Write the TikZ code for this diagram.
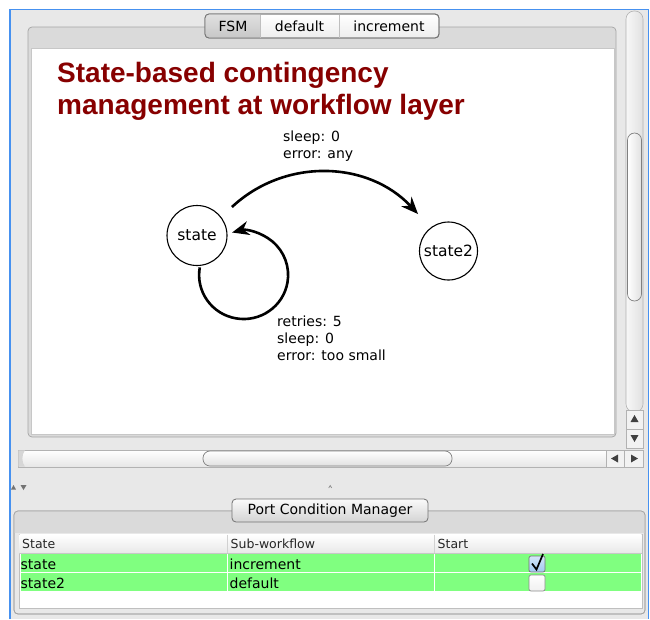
\documentclass[tikz,border=0pt]{standalone}
\usepackage{fontspec}
\setmainfont{DejaVu Sans}
\newfontfamily\titlefont{Liberation Sans}
\usetikzlibrary{arrows.meta,calc}

\definecolor{winbg}{RGB}{232,232,232}
\definecolor{bandbg}{RGB}{218,218,218}
\definecolor{framegray}{RGB}{165,165,165}
\definecolor{winblue}{RGB}{70,145,240}
\definecolor{titlered}{RGB}{135,0,0}
\definecolor{rowgreen}{RGB}{128,255,128}
\definecolor{checkblue}{RGB}{160,200,240}

\tikzset{
  uitext/.style={font=\fontsize{14}{16}\selectfont, inner sep=0pt},
  hdrtext/.style={font=\fontsize{12.5}{14}\selectfont, inner sep=0pt, anchor=base west, text=black!85},
  celltext/.style={font=\fontsize{14}{16}\selectfont, inner sep=0pt, anchor=base west},
  lbl/.style={font=\fontsize{14}{17}\selectfont, inner sep=0pt, anchor=north west, align=left},
  statecirc/.style={circle, draw, line width=1.1pt, fill=white, inner sep=0pt,
                    font=\fontsize{15.5}{18}\selectfont},
  arr/.style={line width=2.6pt, -{Stealth[length=17pt,width=14pt,inset=5.5pt]}},
  sbar/.style={draw=black!30, line width=0.6pt},
  tri/.style={fill=black!75},
}

\begin{document}
\begin{tikzpicture}[x=1pt,y=-1pt]
\useasboundingbox (0,0) rectangle (650,619);
\fill[white] (0,0) rectangle (650,619);

% window body and its blue outline
\fill[winbg] (10,9) rectangle (648.5,619);
\draw[winblue, line width=1.6pt] (10,619) -- (10,9.5) -- (648.5,9.5) -- (648.5,619);

% ---------- FSM editor panel ----------
\draw[framegray, fill=bandbg, rounded corners=4pt, line width=0.7pt] (28,27) rectangle (616,437);
\draw[black!22, fill=white, line width=0.6pt] (31,48) rectangle (614,434);

% tab selector
\draw[black!55, top color=white, bottom color=black!7, rounded corners=4pt, line width=0.8pt] (205,14) rectangle (439,38);
\begin{scope}
  \clip[rounded corners=4pt] (205,14) rectangle (439,38);
  \fill[top color=black!12, bottom color=black!22] (205,14) rectangle (260,38);
\end{scope}
\draw[black!55, rounded corners=4pt, line width=0.8pt] (205,14) rectangle (439,38);
\draw[black!25, line width=0.6pt] (260,14.5) -- (260,37.5) (339,14.5) -- (339,37.5);
\node[uitext] (tabfsm) at (233,26) {FSM};
\node[uitext] (tabdef) at (299.5,26) {default};
\node[uitext] (tabinc) at (389,26) {increment};

% title
\node[inner sep=0pt, anchor=north west, align=left, text=titlered,
      font={\titlefont\bfseries\fontsize{28}{32}\selectfont}] (title) at (57,62)
  {State-based contingency\\management at workflow layer};

% states
\node[statecirc, minimum size=60pt] (state) at (197,235.5) {state};
\node[statecirc, minimum size=58pt] (state2) at (448.5,251) {state2};

% transitions (out/in angles are page angles)
\draw[arr] ($(state)+(-39.2:45.1)$) to[out=43, in=133] ($(state2)+(-129.5:47.9)$);
\draw[arr] ($(state)+(85:32)$) arc[start angle=190, end angle=-105, x radius=44.5, y radius=44];

% transition labels
\node[lbl] (lblgo) at (283,130.5) {sleep: 0\\error: any};
\node[lbl] (lblretry) at (277,315.5) {retries: 5\\sleep: 0\\error: too small};

% vertical scrollbar
\draw[sbar, left color=black!3, right color=black!12, rounded corners=8pt] (626,11) rectangle (643,412);
\draw[black!50, line width=0.7pt, left color=white, right color=black!12, rounded corners=7pt] (627.5,133) rectangle (641.5,301);
\draw[sbar, fill=black!5] (626,410) rectangle (643,429.5);
\draw[sbar, fill=black!5] (626,429.5) rectangle (643,448);
\fill[tri] (634.5,415) -- (638.5,422) -- (630.5,422) -- cycle;
\fill[tri] (630.5,435) -- (638.5,435) -- (634.5,442) -- cycle;

% horizontal scrollbar
\draw[sbar, top color=white, bottom color=black!10] (18,450) rectangle (606,467);
\fill[black!16] (18.3,450.3) -- (25,450.3) .. controls (21.5,454) and (21.5,463) .. (25,466.7) -- (18.3,466.7) -- cycle;
\draw[black!50, line width=0.7pt, top color=white, bottom color=black!12, rounded corners=7pt] (203,451) rectangle (452,466);
\draw[sbar, fill=black!5] (606,450) rectangle (624.5,467);
\draw[sbar, fill=black!5] (624.5,450) rectangle (643,467);
\fill[tri] (611,458.5) -- (618,454.5) -- (618,462.5) -- cycle;
\fill[tri] (638,458.5) -- (631,454.5) -- (631,462.5) -- cycle;

% splitter handles
\fill[black!55] (11,489.5) -- (13.5,485) -- (16,489.5) -- cycle;
\fill[black!55] (20.5,485) -- (26.5,485) -- (23.5,490) -- cycle;
\draw[black!45, line width=0.7pt] (328.7,488) -- (330.2,485.5) -- (331.7,488);

% ---------- Port Condition Manager panel ----------
\draw[framegray, fill=winbg, rounded corners=4pt, line width=0.7pt] (14,511) rectangle (645,614);
\begin{scope}
  \clip[rounded corners=4pt] (14,511) rectangle (645,614);
  \fill[bandbg] (14,511) rectangle (645,533);
\end{scope}
\draw[framegray, rounded corners=4pt, line width=0.7pt] (14,511) rectangle (645,614);
\node[draw=black!55, line width=0.8pt, rounded corners=4pt, top color=black!2, bottom color=black!17,
      minimum width=196pt, minimum height=23pt, uitext] (pcm) at (330,510.5) {Port Condition Manager};

% table
\draw[black!25, fill=white, line width=0.6pt] (19,534) rectangle (642,608);
\fill[top color=white, bottom color=black!9] (19.5,534.5) rectangle (641.5,553);
\draw[black!22, line width=0.6pt] (19.5,553) -- (641.5,553);
\draw[black!18, line width=0.6pt] (227,534.5) -- (227,553) (434,534.5) -- (434,553);
\fill[rowgreen] (20.5,554) rectangle (640.5,572);
\fill[rowgreen] (20.5,573) rectangle (640.5,591);
\draw[white, line width=0.8pt] (227,554) -- (227,591) (434,554) -- (434,591);

\node[hdrtext] (hstate) at (22,548.5) {State};
\node[hdrtext] (hsub) at (230.5,548.5) {Sub-workflow};
\node[hdrtext] (hstart) at (437.5,548.5) {Start};
\node[celltext] (c11) at (20.5,569) {state};
\node[celltext] (c12) at (229.5,569) {increment};
\node[celltext] (c21) at (20.5,588) {state2};
\node[celltext] (c22) at (229.5,588) {default};

% start checkboxes
\draw[black!55, line width=0.7pt, top color=checkblue!45, bottom color=checkblue, rounded corners=2pt] (529,556) rectangle (545,572);
\draw[black, line width=1.7pt] (532,563.5) -- (536.5,569.5) -- (543,554);
\draw[black!45, line width=0.7pt, top color=white, bottom color=black!6, rounded corners=2pt] (529,575) rectangle (545,591);
\end{tikzpicture}
\end{document}
